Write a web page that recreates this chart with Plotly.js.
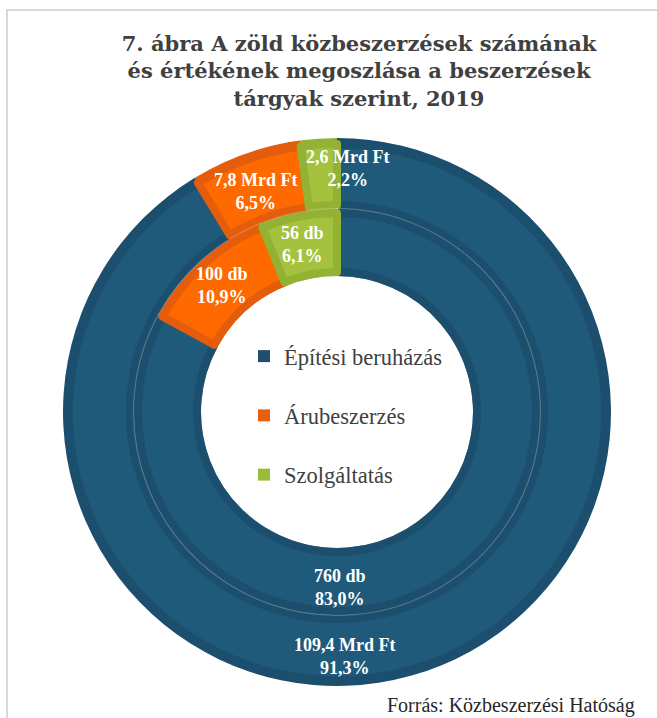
<!DOCTYPE html>
<html><head><meta charset="utf-8">
<script src="https://cdn.plot.ly/plotly-3.0.1.min.js"></script>
<style>html,body{margin:0;padding:0;background:#fff}#chart{width:657px;height:718px}</style>
</head><body><div id="chart"></div>
<script>
// ---- data ----
const categories = ['Építési beruházás', 'Árubeszerzés', 'Szolgáltatás'];
const countDb = [760, 100, 56];
const countPct = [83.0, 10.9, 6.1];
const valueMrdFt = [109.4, 7.8, 2.6];
const valuePct = [91.3, 6.5, 2.2];
const titleText = '7. ábra A zöld közbeszerzések számának<br>és értékének megoszlása a beszerzések<br>tárgyak szerint, 2019';
const sourceText = 'Forrás: Közbeszerzési Hatóság';

// ---- styles / layout ----
const W = 657, H = 718;
const fillColors = ['#1F5A7B', '#FF6A00', '#A4C23D'];
const bandColors = ['#1C4F6E', '#E35D0C', '#93B133'];
const legendColors = ['#1F4E6E', '#E8600F', '#9BBB3C'];
const cx = 337, cy = 412;
const R_OUT = 274, R_MID = 203, R_IN = 136, BAND = 8;
const outerLabelPos = [[344, 656], [255, 192], [347, 168]];
const innerLabelPos = [[340, 587], [222, 285], [302, 245]];

function dom(r) {
  return { x: [(cx - r) / W, (cx + r) / W], y: [(H - cy - r) / H, (H - cy + r) / H] };
}
function ring(values, rOuter, rInner, colors, lineColors, lineW) {
  return {
    type: 'pie', values: values, labels: categories, sort: false,
    direction: 'clockwise', rotation: 0, hole: rInner / rOuter,
    domain: dom(rOuter),
    marker: { colors: colors, line: { color: lineColors, width: lineW } },
    textinfo: 'none', hoverinfo: 'none', showlegend: false
  };
}
const fmt = v => v.toFixed(1).replace('.', ',');

const traces = [
  ring(valueMrdFt, R_OUT, R_MID, bandColors, bandColors, 0),
  ring(valueMrdFt, R_OUT - 6, R_MID + BAND / 2, fillColors, bandColors, BAND),
  ring(countDb, R_MID, R_IN, bandColors, 'rgba(255,255,255,0.25)', 2),
  ring(countDb, R_MID - BAND / 2, R_IN + BAND / 2, fillColors, bandColors, BAND)
];
categories.forEach((c, i) => traces.push({
  type: 'scatter', x: [null], y: [null], mode: 'markers', name: c,
  legendgroup: 'g' + i, hoverinfo: 'none',
  marker: { symbol: 'square', size: 12, color: legendColors[i] }
}));

const labelFont = { family: 'Liberation Serif', size: 18, color: '#FFFFFF', weight: 700 };
const annotations = [];
categories.forEach((c, i) => {
  annotations.push({
    xref: 'paper', yref: 'paper', x: outerLabelPos[i][0] / W, y: 1 - outerLabelPos[i][1] / H,
    xanchor: 'center', yanchor: 'middle', showarrow: false, font: labelFont,
    text: fmt(valueMrdFt[i]) + ' Mrd Ft<br>' + fmt(valuePct[i]) + '%'
  });
  annotations.push({
    xref: 'paper', yref: 'paper', x: innerLabelPos[i][0] / W, y: 1 - innerLabelPos[i][1] / H,
    xanchor: 'center', yanchor: 'middle', showarrow: false, font: labelFont,
    text: countDb[i] + ' db<br>' + fmt(countPct[i]) + '%'
  });
});
annotations.push({
  xref: 'paper', yref: 'paper', x: 637 / W, y: 1 - 705 / H, xanchor: 'right', yanchor: 'middle',
  showarrow: false, text: sourceText,
  font: { family: 'Liberation Serif', size: 20, color: '#262626' }
});

const layout = {
  width: W, height: H, margin: { l: 0, r: 0, t: 0, b: 0 },
  paper_bgcolor: '#FFFFFF', plot_bgcolor: 'rgba(0,0,0,0)',
  title: {
    text: titleText, x: 359 / W, xanchor: 'center', xref: 'paper',
    y: 1 - 51 / H, yanchor: 'top', yref: 'container',
    font: { family: 'DejaVu Serif', size: 21, color: '#404040', weight: 700 }
  },
  xaxis: { visible: false, fixedrange: true },
  yaxis: { visible: false, fixedrange: true },
  showlegend: true,
  legend: {
    x: 244 / W, y: 1 - 335 / H, xanchor: 'left', yanchor: 'top',
    font: { family: 'Liberation Serif', size: 22.5, color: '#404040' },
    traceorder: 'grouped', tracegroupgap: 27, bgcolor: 'rgba(0,0,0,0)'
  },
  annotations: annotations,
  shapes: [
    { type: 'line', xref: 'paper', yref: 'paper', x0: 6 / W, x1: 1, y0: 1 - 10 / H, y1: 1 - 10 / H, line: { color: '#D9D9D9', width: 2 } },
    { type: 'line', xref: 'paper', yref: 'paper', x0: 7 / W, x1: 7 / W, y0: 1 - 10 / H, y1: 0, line: { color: '#D9D9D9', width: 2 } }
  ]
};

Plotly.newPlot('chart', traces, layout, { displayModeBar: false, staticPlot: true });
</script>
</body></html>
